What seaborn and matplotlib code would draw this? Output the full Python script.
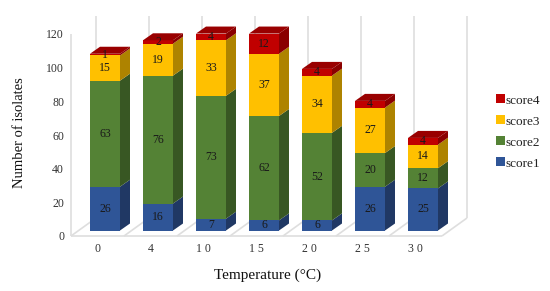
import matplotlib
matplotlib.use("Agg")
import matplotlib.pyplot as plt
import numpy as np
import seaborn as sns

temps = ["0", "4", "1 0", "1 5", "2 0", "2 5", "3 0"]
score1 = [26, 16, 7, 6, 6, 26, 25]
score2 = [63, 76, 73, 62, 52, 20, 12]
score3 = [15, 19, 33, 37, 34, 27, 14]
score4 = [1, 2, 4, 12, 4, 4, 4]
names = ["score1", "score2", "score3", "score4"]
front = ["#2F5597", "#548235", "#FFC000", "#C00000"]
side = ["#203864", "#385723", "#AE8300", "#8A0000"]
top_col = "#990000"
yticks = [0, 20, 40, 60, 80, 100, 120]

sns.set_theme(style="white")
plt.rcParams["font.family"] = ["Liberation Serif", "DejaVu Serif"]

W, H = 550, 291
fig = plt.figure(figsize=(W / 100, H / 100), dpi=100, facecolor="white")
ax = fig.add_axes([71 / W, (H - 236) / H, 371 / W, 202 / H])

px_x = 53.0
px_y = 202 / 120
dep_x, dep_y = 10 / px_x, 7 / px_y        # depth of a bar
off_x, off_y = 7.5 / px_x, 5.5 / px_y     # bar set into the floor
wall_x, wall_y = 25 / px_x, 18 / px_y     # depth of the walls
grey = "#DEDEDE"

# walls and floor
kw = dict(color=grey, lw=1.2, clip_on=False, zorder=0.5, solid_capstyle="butt")
ax.plot([-0.5, 6.5], [0, 0], **kw)
ax.plot([-0.5, -0.5], [0, 120], **kw)
for i in range(8):
    x = i - 0.5
    ax.plot([x, x + wall_x], [0, wall_y], **kw)
    ax.plot([x + wall_x, x + wall_x], [wall_y, 120 + wall_y], **kw)

series = [score1, score2, score3, score4]
base = np.zeros(len(temps))
handles = []
for k, vals in enumerate(series):
    sns.barplot(x=temps, y=vals, bottom=base, color=front[k], saturation=1,
                width=30 / px_x, ax=ax, label=names[k], linewidth=0, legend=False)
    cont = ax.containers[-1]
    handles.append(cont)
    for p, v, b in zip(cont.patches, vals, base):
        p.set_x(p.get_x() + off_x)
        p.set_y(b + off_y)
        p.set_height(v)
        p.set_clip_on(False)
        p.set_zorder(2)
        xl, xr = p.get_x(), p.get_x() + p.get_width()
        y0, y1 = p.get_y(), p.get_y() + v
        ax.fill([xr, xr + dep_x, xr + dep_x, xr],
                [y0, y0 + dep_y, y1 + dep_y, y1],
                color=side[k], lw=0, clip_on=False, zorder=2)
        if k == 3:
            ax.fill([xl, xr, xr + dep_x, xl + dep_x],
                    [y1, y1, y1 + dep_y, y1 + dep_y],
                    color=top_col, lw=0, clip_on=False, zorder=2)
        ax.text((xl + xr) / 2, (y0 + y1) / 2, str(v), ha="center", va="center",
                fontsize=8.5, color="#1A1A1A", zorder=3, clip_on=False)
    base = base + np.array(vals)

ax.set_xlim(-0.5, 6.5)
ax.set_ylim(0, 120)
ax.set_yticks(yticks)
ax.tick_params(axis="both", length=0, labelsize=8.5, colors="#333333")
ax.tick_params(axis="x", pad=5)
ax.tick_params(axis="y", pad=5)
sns.despine(ax=ax, left=True, bottom=True)
ax.patch.set_alpha(0)

ax.set_xlabel("Temperature (°C)", fontsize=11, color="#111111")
ax.xaxis.set_label_coords((268 - 71) / 371, (236 - 269) / 202)
ax.set_ylabel("Number of isolates", fontsize=10.5, color="#111111")
ax.yaxis.set_label_coords((26 - 71) / 371, (236 - 133) / 202)

ax.legend(handles=handles[::-1], labels=names[::-1], frameon=False, fontsize=9.5,
          loc="center left", bbox_to_anchor=(489.5 / W, (H - 132) / H),
          bbox_transform=fig.transFigure, handlelength=0.65, handleheight=0.65,
          handletextpad=0.05, labelspacing=0.68, borderpad=0, labelcolor="#222222")

fig.savefig("out.png", dpi=100, facecolor="white")
